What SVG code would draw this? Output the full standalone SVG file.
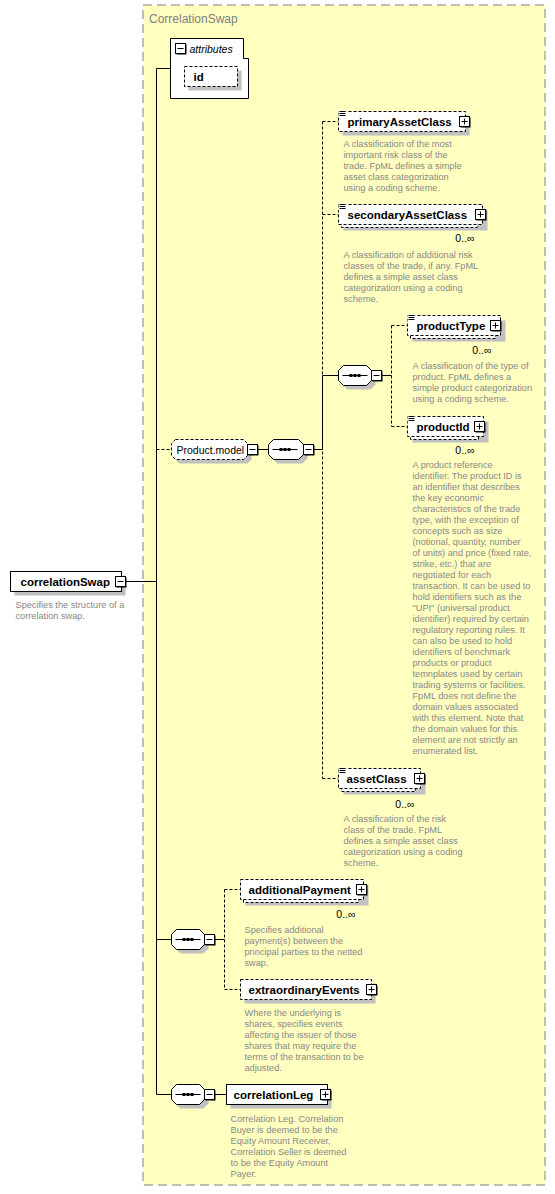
<svg xmlns="http://www.w3.org/2000/svg" xmlns:xlink="http://www.w3.org/1999/xlink" width="555" height="1194" viewBox="0 0 555 1194">
<style>
.bg{fill:#ffffc0;stroke:#808080;stroke-dasharray:9,5}
.title{font-family:"Liberation Sans",Arial,sans-serif;font-size:12px;fill:#808080}
.box{fill:#fff;stroke:#000;stroke-width:1}
.dash{stroke-dasharray:3,2}
.sh{fill:#c0c0c0;stroke:none}
.b{font-family:"Liberation Sans",Arial,sans-serif;font-size:11.5px;font-weight:bold;fill:#000}
.r{font-family:"Liberation Sans",Arial,sans-serif;font-size:10.5px;fill:#000}
.i{font-family:"Liberation Sans",Arial,sans-serif;font-size:10.5px;font-style:italic;fill:#000}
.occ{font-family:"Liberation Sans",Arial,sans-serif;font-size:10.5px;fill:#000;text-anchor:end}
.d{font-family:"Liberation Sans",Arial,sans-serif;font-size:9.2px;fill:#888}
.ln{fill:none;stroke:#000;stroke-width:1}
.ld{fill:none;stroke:#000;stroke-width:1;stroke-dasharray:3,2}
</style>
<defs>
<g id="minus"><rect x="1" y="1" width="10" height="10" fill="#000"/><rect width="10" height="10" fill="#fff" stroke="#000"/><path d="M2,5H8" stroke="#000"/></g>
<g id="plus"><rect x="1" y="1" width="10" height="10" fill="#000"/><rect width="10" height="10" fill="#fff" stroke="#000"/><path d="M2,5H8M5,2V8" stroke="#000"/></g>
<g id="seqsym"><path d="M4,10H29" stroke="#000"/><rect x="11" y="8.5" width="3" height="3" fill="#000"/><rect x="15" y="8.5" width="3" height="3" fill="#000"/><rect x="19" y="8.5" width="3" height="3" fill="#000"/></g>
<g id="simp"><rect x="-1" y="-2" width="8" height="7" fill="#fff"/><path d="M0,-1H6M0,1H6M0,3H6" stroke="#000"/></g>
</defs>
<rect class="bg" x="143" y="5" width="402" height="1180"/>
<text class="title" x="149" y="23">CorrelationSwap</text>
<g transform="translate(0.5,0.5)">
<g id="connectors">
<path class="ln" d="M125,581H156M156,68V1094M156,68H170M257,449H268M313,449H322M322,375V449M322,375H338M381,375H391M156,939H171M214,939H224M156,1094H171M214,1094H226"/>
<path class="ld" d="M156,449H171M322,121V778M322,121H338M322,214H338M322,778H338M391,325V426M391,325H407M391,426H407M224,889V989M224,889H240M224,989H240"/>
</g>
<g id="correlationSwap">
<rect class="sh" x="14" y="575" width="111" height="20"/>
<rect class="box" x="10" y="571" width="111" height="20"/>
<text class="b" x="20" y="585">correlationSwap</text>
<use xlink:href="#minus" x="115" y="576"/>
<text class="d"><tspan x="15" y="607">Specifies the structure of a</tspan><tspan x="15" y="618">correlation swap.</tspan></text>
</g>
<g id="attributes">
<path class="box" d="M170,38H243V58H248V98H170Z"/>
<use xlink:href="#minus" x="175" y="43"/>
<text class="i" x="189" y="52">attributes</text>
<g id="id">
<rect class="sh" x="188" y="70" width="53" height="20"/>
<rect class="box dash" x="184" y="66" width="53" height="20"/>
<text class="b" x="193" y="80">id</text>
</g>
</g>
<g id="Product.model">
<path class="sh" d="M179,443H247L251,447V459L247,463H179L175,459V447Z"/>
<path class="box dash" d="M175,439H243L247,443V455L243,459H175L171,455V443Z"/>
<text class="r" x="176" y="453">Product.model</text>
<use xlink:href="#minus" x="247" y="444"/>
</g>
<g id="sequence1">
<path class="sh" d="M277,443H302L307,448V458L302,463H277L272,458V448Z"/>
<path class="box" d="M273,439H298L303,444V454L298,459H273L268,454V444Z"/>
<use xlink:href="#seqsym" x="268" y="439"/>
<use xlink:href="#minus" x="303" y="444"/>
</g>
<g id="primaryAssetClass">
<rect class="sh" x="342" y="115" width="127" height="20"/>
<rect class="box dash" x="338" y="111" width="127" height="20"/>
<use xlink:href="#simp" x="339" y="112"/>
<text class="b" x="347" y="125">primaryAssetClass</text>
<use xlink:href="#plus" x="459" y="116"/>
<text class="d"><tspan x="343" y="146">A classification of the most</tspan><tspan x="343" y="157">important risk class of the</tspan><tspan x="343" y="168">trade. FpML defines a simple</tspan><tspan x="343" y="179">asset class categorization</tspan><tspan x="343" y="190">using a coding scheme.</tspan></text>
</g>
<g id="secondaryAssetClass">
<rect class="sh" x="343" y="209" width="144" height="21"/>
<rect class="box dash" x="341" y="207" width="136" height="20"/>
<rect class="box dash" x="338" y="204" width="144" height="20"/>
<use xlink:href="#simp" x="339" y="205"/>
<text class="b" x="347" y="218">secondaryAssetClass</text>
<use xlink:href="#plus" x="475" y="209"/>
<text class="occ" x="474" y="241">0..∞</text>
<text class="d"><tspan x="343" y="257">A classification of additional risk</tspan><tspan x="343" y="268">classes of the trade, if any. FpML</tspan><tspan x="343" y="279">defines a simple asset class</tspan><tspan x="343" y="290">categorization using a coding</tspan><tspan x="343" y="301">scheme.</tspan></text>
</g>
<g id="sequence2">
<path class="sh" d="M347,369H370L375,374V384L370,389H347L342,384V374Z"/>
<path class="box" d="M343,365H366L371,370V380L366,385H343L338,380V370Z"/>
<use xlink:href="#seqsym" x="338" y="365"/>
<use xlink:href="#minus" x="371" y="370"/>
</g>
<g id="productType">
<rect class="sh" x="412" y="320" width="93" height="21"/>
<rect class="box dash" x="410" y="318" width="85" height="20"/>
<rect class="box dash" x="407" y="315" width="93" height="20"/>
<use xlink:href="#simp" x="408" y="316"/>
<text class="b" x="416" y="329">productType</text>
<use xlink:href="#plus" x="490" y="320"/>
<text class="occ" x="491" y="353">0..∞</text>
<text class="d"><tspan x="412" y="368">A classification of the type of</tspan><tspan x="412" y="379">product. FpML defines a</tspan><tspan x="412" y="390">simple product categorization</tspan><tspan x="412" y="401">using a coding scheme.</tspan></text>
</g>
<g id="productId">
<rect class="sh" x="412" y="421" width="76" height="21"/>
<rect class="box dash" x="410" y="419" width="68" height="20"/>
<rect class="box dash" x="407" y="416" width="76" height="20"/>
<use xlink:href="#simp" x="408" y="417"/>
<text class="b" x="416" y="430">productId</text>
<use xlink:href="#plus" x="474" y="421"/>
<text class="occ" x="474" y="453">0..∞</text>
<text class="d"><tspan x="412" y="467">A product reference</tspan><tspan x="412" y="478">identifier. The product ID is</tspan><tspan x="412" y="489">an identifier that describes</tspan><tspan x="412" y="500">the key economic</tspan><tspan x="412" y="511">characteristics of the trade</tspan><tspan x="412" y="522">type, with the exception of</tspan><tspan x="412" y="533">concepts such as size</tspan><tspan x="412" y="544">(notional, quantity, number</tspan><tspan x="412" y="555">of units) and price (fixed rate,</tspan><tspan x="412" y="566">strike, etc.) that are</tspan><tspan x="412" y="577">negotiated for each</tspan><tspan x="412" y="588">transaction. It can be used to</tspan><tspan x="412" y="599">hold identifiers such as the</tspan><tspan x="412" y="610">"UPI" (universal product</tspan><tspan x="412" y="621">identifier) required by certain</tspan><tspan x="412" y="632">regulatory reporting rules. It</tspan><tspan x="412" y="643">can also be used to hold</tspan><tspan x="412" y="654">identifiers of benchmark</tspan><tspan x="412" y="665">products or product</tspan><tspan x="412" y="676">temnplates used by certain</tspan><tspan x="412" y="687">trading systems or facilities.</tspan><tspan x="412" y="698">FpML does not define the</tspan><tspan x="412" y="709">domain values associated</tspan><tspan x="412" y="720">with this element. Note that</tspan><tspan x="412" y="731">the domain values for this</tspan><tspan x="412" y="742">element are not strictly an</tspan><tspan x="412" y="753">enumerated list.</tspan></text>
</g>
<g id="assetClass">
<rect class="sh" x="343" y="773" width="82" height="21"/>
<rect class="box dash" x="341" y="771" width="74" height="20"/>
<rect class="box dash" x="338" y="768" width="82" height="20"/>
<use xlink:href="#simp" x="339" y="769"/>
<text class="b" x="346" y="782">assetClass</text>
<use xlink:href="#plus" x="414" y="773"/>
<text class="occ" x="414" y="807">0..∞</text>
<text class="d"><tspan x="343" y="821">A classification of the risk</tspan><tspan x="343" y="832">class of the trade. FpML</tspan><tspan x="343" y="843">defines a simple asset class</tspan><tspan x="343" y="854">categorization using a coding</tspan><tspan x="343" y="865">scheme.</tspan></text>
</g>
<g id="sequence3">
<path class="sh" d="M180,933H203L208,938V948L203,953H180L175,948V938Z"/>
<path class="box" d="M176,929H199L204,934V944L199,949H176L171,944V934Z"/>
<use xlink:href="#seqsym" x="171" y="929"/>
<use xlink:href="#minus" x="204" y="934"/>
</g>
<g id="additionalPayment">
<rect class="sh" x="245" y="884" width="123" height="21"/>
<rect class="box dash" x="243" y="882" width="115" height="20"/>
<rect class="box dash" x="240" y="879" width="123" height="20"/>
<text class="b" x="248" y="893">additionalPayment</text>
<use xlink:href="#plus" x="356" y="884"/>
<text class="occ" x="355" y="917">0..∞</text>
<text class="d"><tspan x="244" y="932">Specifies additional</tspan><tspan x="244" y="943">payment(s) between the</tspan><tspan x="244" y="954">principal parties to the netted</tspan><tspan x="244" y="965">swap.</tspan></text>
</g>
<g id="extraordinaryEvents">
<rect class="sh" x="244" y="983" width="131" height="20"/>
<rect class="box dash" x="240" y="979" width="131" height="20"/>
<text class="b" x="248" y="993">extraordinaryEvents</text>
<use xlink:href="#plus" x="366" y="984"/>
<text class="d"><tspan x="244" y="1015">Where the underlying is</tspan><tspan x="244" y="1026">shares, specifies events</tspan><tspan x="244" y="1037">affecting the issuer of those</tspan><tspan x="244" y="1048">shares that may require the</tspan><tspan x="244" y="1059">terms of the transaction to be</tspan><tspan x="244" y="1070">adjusted.</tspan></text>
</g>
<g id="sequence4">
<path class="sh" d="M180,1088H203L208,1093V1103L203,1108H180L175,1103V1093Z"/>
<path class="box" d="M176,1084H199L204,1089V1099L199,1104H176L171,1099V1089Z"/>
<use xlink:href="#seqsym" x="171" y="1084"/>
<use xlink:href="#minus" x="204" y="1089"/>
</g>
<g id="correlationLeg">
<rect class="sh" x="230" y="1088" width="101" height="20"/>
<rect class="box" x="226" y="1084" width="101" height="20"/>
<text class="b" x="233" y="1098">correlationLeg</text>
<use xlink:href="#plus" x="320" y="1089"/>
<text class="d"><tspan x="230" y="1121">Correlation Leg. Correlation</tspan><tspan x="230" y="1132">Buyer is deemed to be the</tspan><tspan x="230" y="1143">Equity Amount Receiver,</tspan><tspan x="230" y="1154">Correlation Seller is deemed</tspan><tspan x="230" y="1165">to be the Equity Amount</tspan><tspan x="230" y="1176">Payer.</tspan></text>
</g>
</g>
</svg>
